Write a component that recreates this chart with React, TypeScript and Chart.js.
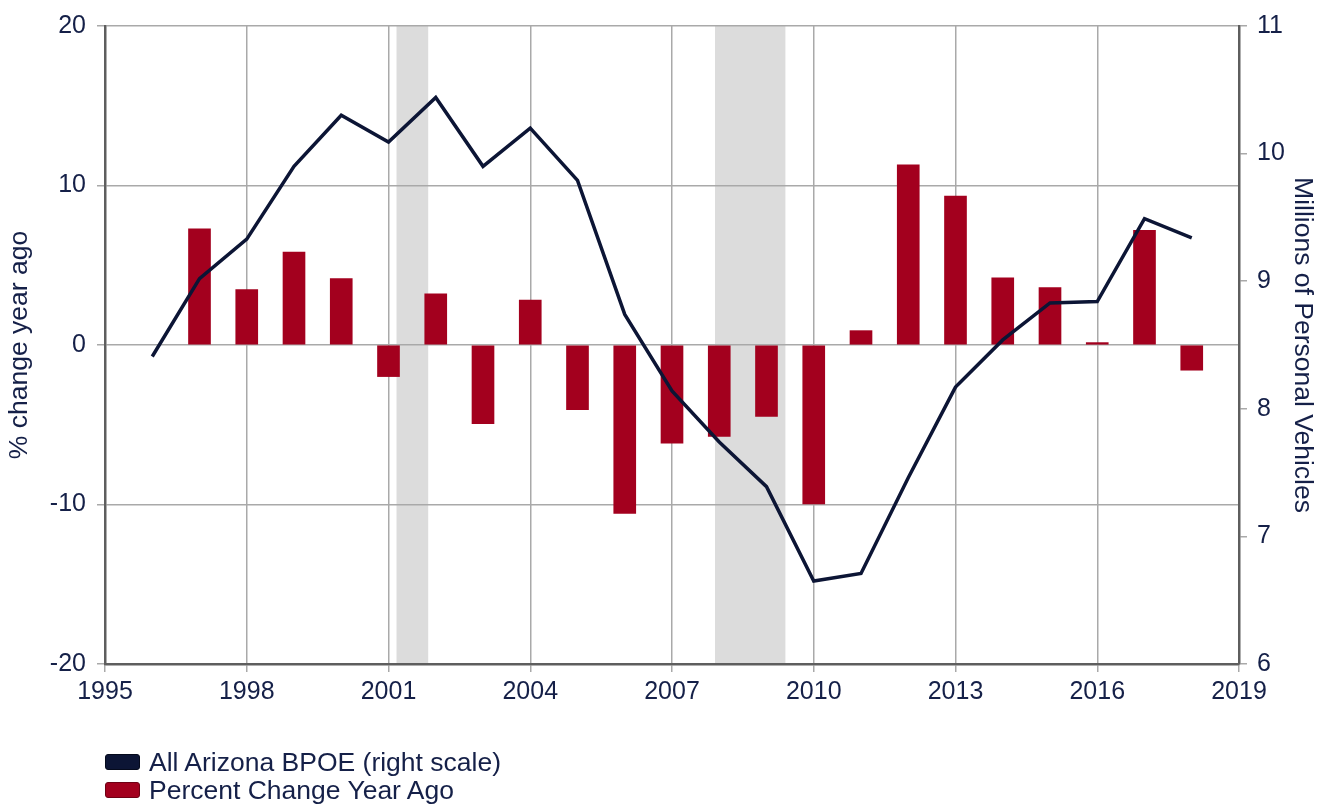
import React, { useEffect, useRef } from "react";
import { Chart, registerables } from "chart.js";

Chart.register(...registerables);

// Line series: All Arizona BPOE (millions of personal vehicles, right scale)
const lineYears = [1996, 1997, 1998, 1999, 2000, 2001, 2002, 2003, 2004, 2005, 2006, 2007, 2008, 2009, 2010, 2011, 2012, 2013, 2014, 2015, 2016, 2017, 2018];
const bpoeMillions = [8.41, 9.02, 9.33, 9.9, 10.3, 10.09, 10.44, 9.9, 10.2, 9.79, 8.74, 8.14, 7.74, 7.39, 6.65, 6.71, 7.46, 8.17, 8.54, 8.83, 8.84, 9.49, 9.34];

// Bar series: percent change year ago (left scale)
const barYears = [1997, 1998, 1999, 2000, 2001, 2002, 2003, 2004, 2005, 2006, 2007, 2008, 2009, 2010, 2011, 2012, 2013, 2014, 2015, 2016, 2017, 2018];
const pctChange = [7.29, 3.48, 5.83, 4.17, -1.98, 3.21, -4.94, 2.81, -4.06, -10.56, -6.15, -5.73, -4.48, -9.96, 0.9, 11.29, 9.33, 4.21, 3.6, 0.15, 7.19, -1.58];

// Recession periods (shaded)
const recessionStart = [2001.17, 2007.91];
const recessionEnd = [2001.84, 2009.4];

// Axis ranges / ticks
const xMin = 1995;
const xMax = 2019;
const xStep = 3;
const leftMin = -20;
const leftMax = 20;
const leftStep = 10;
const rightMin = 6;
const rightMax = 11;
const rightStep = 1;

const lineLabel = "All Arizona BPOE (right scale)";
const barLabel = "Percent Change Year Ago";
const leftTitle = "% change year ago";
const rightTitle = "Millions of Personal Vehicles";

const NAVY = "#0c1535";
const RED = "#a3001e";
const TEXT = "#152048";
const GRID = "#a9a9a9";
const AXIS = "#5e5e5e";
const SHADE = "#dcdcdc";
const FONT = "'Liberation Sans', Arial, sans-serif";

const shadePlugin = {
  id: "recessionShade",
  beforeDraw(chart: any) {
    const { ctx, chartArea, scales } = chart;
    const x = scales.x;
    ctx.save();
    ctx.fillStyle = SHADE;
    for (let i = 0; i < recessionStart.length; i++) {
      const x0 = x.getPixelForValue(recessionStart[i]);
      const x1 = x.getPixelForValue(recessionEnd[i]);
      ctx.fillRect(x0, chartArea.top, x1 - x0, chartArea.bottom - chartArea.top);
    }
    ctx.restore();
  },
};

export default function App() {
  const canvasRef = useRef<HTMLCanvasElement | null>(null);

  useEffect(() => {
    if (!canvasRef.current) return;
    const chart = new Chart(canvasRef.current, {
      type: "bar",
      data: {
        datasets: [
          {
            type: "line",
            label: lineLabel,
            data: lineYears.map((x, i) => ({ x, y: bpoeMillions[i] })),
            yAxisID: "y1",
            borderColor: NAVY,
            backgroundColor: NAVY,
            borderWidth: 3.5,
            pointRadius: 0,
            tension: 0,
            order: 0,
          } as any,
          {
            type: "bar",
            label: barLabel,
            data: barYears.map((x, i) => ({ x, y: pctChange[i] })),
            yAxisID: "y",
            backgroundColor: RED,
            barThickness: 22,
            order: 1,
          } as any,
        ],
      },
      options: {
        animation: false,
        responsive: true,
        maintainAspectRatio: false,
        layout: { padding: { top: 23, left: 0, right: 0, bottom: 0 } },
        plugins: {
          legend: { display: false },
          tooltip: { enabled: false },
        },
        scales: {
          x: {
            type: "linear",
            position: "bottom",
            min: xMin,
            max: xMax,
            offset: false,
            grid: { color: GRID, lineWidth: 1.5, tickLength: 8, offset: false, tickColor: GRID },
            border: { color: AXIS, width: 2.5 },
            ticks: {
              stepSize: xStep,
              autoSkip: false,
              maxRotation: 0,
              padding: 5,
              color: TEXT,
              font: { family: FONT, size: 25 },
              callback: (v: any) => String(v),
            },
            afterFit: (s: any) => {
              s.height = 146;
            },
          },
          y: {
            type: "linear",
            position: "left",
            min: leftMin,
            max: leftMax,
            grid: { color: GRID, lineWidth: 1.5, tickLength: 8, tickColor: GRID },
            border: { color: AXIS, width: 2.5 },
            ticks: {
              stepSize: leftStep,
              padding: 11,
              color: TEXT,
              font: { family: FONT, size: 25 },
            },
            title: {
              display: true,
              text: leftTitle,
              color: TEXT,
              font: { family: FONT, size: 26.5 },
              padding: { top: 4, bottom: 0 },
            },
            afterFit: (s: any) => {
              s.width = 105;
            },
          },
          y1: {
            type: "linear",
            position: "right",
            min: rightMin,
            max: rightMax,
            grid: { drawOnChartArea: false, color: GRID, lineWidth: 1.5, tickLength: 8, tickColor: GRID },
            border: { color: AXIS, width: 2.5 },
            ticks: {
              stepSize: rightStep,
              padding: 10,
              color: TEXT,
              font: { family: FONT, size: 25 },
            },
            title: {
              display: true,
              text: rightTitle,
              color: TEXT,
              font: { family: FONT, size: 26.5 },
              padding: { top: 4, bottom: 0 },
            },
            afterFit: (s: any) => {
              s.width = 83;
            },
          },
        },
      },
      plugins: [shadePlugin],
    });
    return () => chart.destroy();
  }, []);

  const legendItems = [
    { label: lineLabel, color: NAVY, border: "#050a1c" },
    { label: barLabel, color: RED, border: "#6e0014" },
  ];

  return (
    <div style={{ position: "fixed", left: 0, top: 0, width: 1322, height: 810, background: "#ffffff" }}>
      <canvas ref={canvasRef} />
      {legendItems.map((it, i) => (
        <div key={it.label} style={{ position: "absolute", left: 0, top: 0 }}>
          <div
            style={{
              position: "absolute",
              left: 105,
              top: 754 + i * 28,
              width: 35,
              height: 16,
              boxSizing: "border-box",
              background: it.color,
              border: `1.5px solid ${it.border}`,
              borderRadius: 3,
            }}
          />
          <div
            style={{
              position: "absolute",
              left: 149,
              top: 749 + i * 28,
              whiteSpace: "nowrap",
              fontFamily: FONT,
              fontSize: 26.5,
              lineHeight: "26px",
              color: TEXT,
            }}
          >
            {it.label}
          </div>
        </div>
      ))}
    </div>
  );
}
